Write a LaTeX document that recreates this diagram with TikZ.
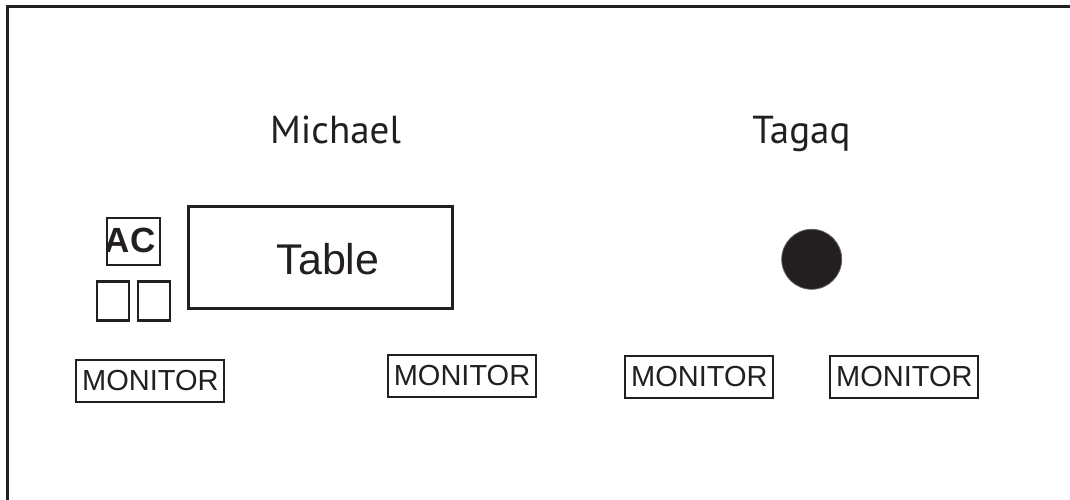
\documentclass[tikz,border=0pt]{standalone}
\usepackage{fontspec}
\setmainfont{Liberation Sans}
\newfontfamily\namefont{PT Sans}
\definecolor{ink}{HTML}{231F20}
\begin{document}
\begin{tikzpicture}[x=1pt,y=-1pt,
  box/.style={draw=ink, line width=2.2pt, inner sep=0pt, text=ink},
  monitor/.style={box, minimum width=148pt, minimum height=42pt, font=\fontsize{29}{34}\selectfont},
  namelabel/.style={anchor=base, text=ink, inner sep=0pt, font=\namefont\fontsize{39}{45}\selectfont}]
\useasboundingbox (0,0) rectangle (1070,500);
% frame (open to right and bottom)
\coordinate (fbl) at (7.6,500);
\coordinate (ftl) at (7.6,6.5);
\coordinate (ftr) at (1070,6.5);
\draw[ink, line width=2.6pt] (fbl) -- (ftl) -- (ftr);
% names
\node[namelabel] (michael) at (335.5,143) {Michael};
\node[namelabel] (tagaq) at (801.4,143) {Tagaq};
% table
\node[box, minimum width=264pt, minimum height=102pt] (table) at (320.5,257.5) {};
\node[anchor=base, inner sep=0pt, text=ink, font=\fontsize{43}{49}\selectfont] (tabletext) at (328,274) {Table};
% AC (text clipped by its box)
\coordinate (acsw) at (107.2,264.7);
\coordinate (acne) at (160.2,217.7);
\begin{scope}
\clip (acsw) rectangle (acne);
\node[anchor=base east, inner sep=0pt, text=ink, font=\bfseries\fontsize{35}{40}\selectfont] (actext) at (155.5,252.3) {AC};
\end{scope}
\node[box, minimum width=53pt, minimum height=47pt] (ac) at (133.7,241.2) {};
% small squares
\node[box, minimum width=32pt, minimum height=39pt] (sq1) at (112.7,301) {};
\node[box, minimum width=32pt, minimum height=39pt] (sq2) at (154.3,301) {};
% circle
\node[circle, fill=ink, draw=ink!70, line width=0.8pt, minimum size=60pt, inner sep=0pt] (dot) at (811.7,259.3) {};
% monitors
\node[monitor] (m1) at (150.3,380.8) {MONITOR};
\node[monitor] (m2) at (462,375.7) {MONITOR};
\node[monitor] (m3) at (699.3,377) {MONITOR};
\node[monitor] (m4) at (904.3,377) {MONITOR};
\end{tikzpicture}
\end{document}
